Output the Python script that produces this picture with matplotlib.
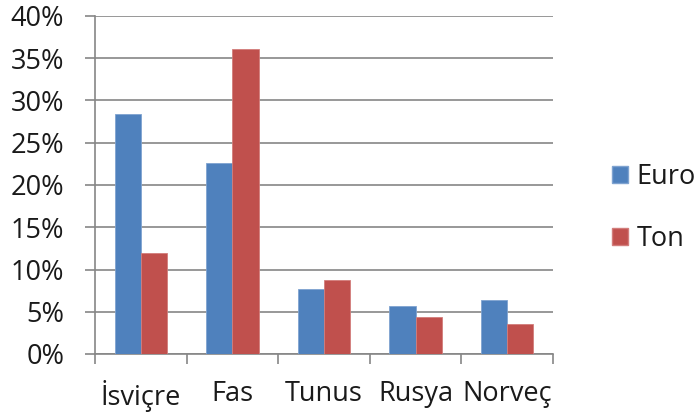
import matplotlib.pyplot as plt
import numpy as np
from matplotlib.patches import Patch
from matplotlib.ticker import FuncFormatter

plt.rcParams['font.family'] = ['Open Sans', 'DejaVu Sans']

countries = ['İsviçre', 'Fas', 'Tunus', 'Rusya', 'Norveç']
euro = [28.4, 22.6, 7.7, 5.7, 6.4]
ton = [11.9, 36.1, 8.8, 4.4, 3.5]

BLUE = '#4F81BD'
RED = '#C0504D'
GRID = '#868686'
TEXT = '#1a1a1a'
FS = 19.5

fig = plt.figure(figsize=(6.96, 4.12), dpi=100)
ax = fig.add_axes([95 / 696, 58 / 412, 458 / 696, 338 / 412])

x = np.arange(len(countries))
w = 0.2857
ax.bar(x - w / 2, euro, w, color=BLUE, edgecolor='#7FA3D0', linewidth=0.6, zorder=3)
ax.bar(x + w / 2, ton, w, color=RED, edgecolor='#D27D7B', linewidth=0.6, zorder=3)

ax.set_xlim(-0.5, len(countries) - 0.5)
ax.set_ylim(0, 40)
ax.set_yticks(np.arange(0, 41, 5))
ax.yaxis.set_major_formatter(FuncFormatter(lambda v, p: f'{v:.0f}%'))
ax.yaxis.grid(True, color=GRID, linewidth=1.2, zorder=0)

# category labels centered, tick marks on the boundaries
ax.set_xticks(x)
ax.set_xticklabels(countries)
ax.set_xticks(np.arange(-0.5, len(countries)), minor=True)
ax.tick_params(axis='x', which='major', length=0, pad=18.5, labelsize=FS, labelcolor=TEXT)
ax.tick_params(axis='x', which='minor', length=7, width=1.2, color=GRID, direction='out')
ax.tick_params(axis='y', length=7.2, width=1.2, color=GRID, pad=15, labelsize=FS, labelcolor=TEXT)

for s in ['top', 'right']:
    ax.spines[s].set_visible(False)
for s in ['left', 'bottom']:
    ax.spines[s].set_color(GRID)
    ax.spines[s].set_linewidth(1.2)

handles = [Patch(facecolor=BLUE, edgecolor='#7FA3D0', label='Euro'),
           Patch(facecolor=RED, edgecolor='#D27D7B', label='Ton')]
fig.legend(handles=handles, loc='center left', bbox_to_anchor=(612 / 696, 204 / 412),
           frameon=False, fontsize=FS, handlelength=0.6, handleheight=0.6,
           handletextpad=0.3, labelspacing=1.25, borderpad=0, borderaxespad=0,
           labelcolor=TEXT)

fig.savefig('out.png', dpi=100)
